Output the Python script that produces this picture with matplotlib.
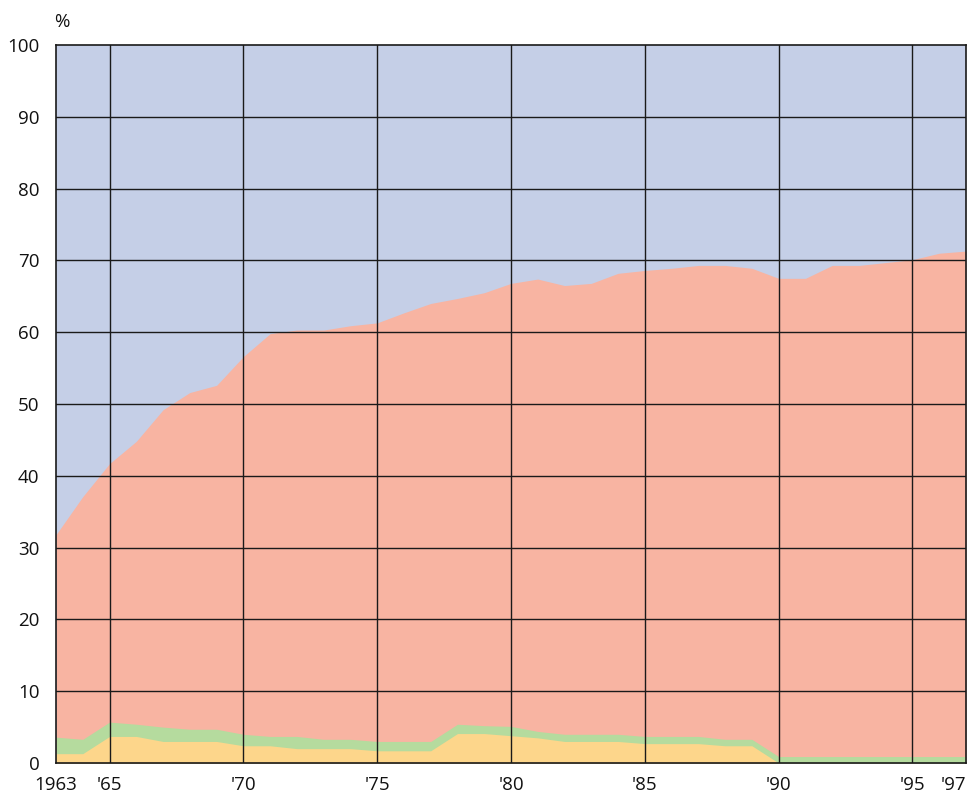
"""
    Stacked share chart, 1963-1997 (percent).
"""

import numpy as np
import matplotlib
matplotlib.use("Agg")
import matplotlib.pyplot as plt
from matplotlib.transforms import ScaledTranslation

years = list(range(1963, 1998))

# bottom layer (yellow)
yellow = [1.3, 1.3, 3.7, 3.7, 3.0, 3.0, 3.0, 2.4, 2.4, 2.0, 2.0, 2.0, 1.7, 1.7, 1.7,
          4.1, 4.1, 3.8, 3.5, 3.0, 3.0, 3.0, 2.7, 2.7, 2.7, 2.4, 2.4,
          0.0, 0.0, 0.0, 0.0, 0.0, 0.0, 0.0, 0.0]
# cumulative top of the green layer
green_top = [3.6, 3.3, 5.7, 5.4, 5.0, 4.7, 4.7, 4.0, 3.7, 3.7, 3.3, 3.3, 3.0, 3.0, 3.0,
             5.4, 5.2, 5.1, 4.4, 4.0, 4.0, 4.0, 3.7, 3.7, 3.7, 3.3, 3.3,
             0.9, 0.9, 0.9, 0.9, 0.9, 0.9, 0.9, 0.9]
# cumulative top of the salmon layer
salmon_top = [31.8, 37.1, 41.7, 44.8, 49.2, 51.6, 52.6, 56.6, 59.8, 60.3, 60.3, 60.9,
              61.3, 62.7, 64.0, 64.7, 65.5, 66.8, 67.4, 66.5, 66.8, 68.2, 68.6, 68.9,
              69.3, 69.3, 68.9, 67.5, 67.5, 69.3, 69.3, 69.7, 70.1, 71.0, 71.3]

xtick_pos = [1963, 1965, 1970, 1975, 1980, 1985, 1990, 1995, 1997]
xtick_labels = ["1963", "'65", "'70", "'75", "'80", "'85", "'90", "'95", "'97"]
ytick_pos = list(range(0, 101, 10))

plt.rcParams["font.family"] = ["Open Sans", "DejaVu Sans"]

fig = plt.figure(figsize=(9.72, 7.98), dpi=100)
ax = fig.add_axes([56 / 972, 35 / 798, 910 / 972, 718 / 798])

yrs = np.array(years)
ax.fill_between(yrs, 0, 100, color="#C5CFE7", lw=0)
ax.fill_between(yrs, 0, salmon_top, color="#F8B4A2", lw=0)
ax.fill_between(yrs, 0, green_top, color="#B5DB9E", lw=0)
ax.fill_between(yrs, 0, yellow, color="#FDD68B", lw=0)

ax.set_xlim(1963, 1997)
ax.set_ylim(0, 100)

# grid lines
for x in xtick_pos[1:-1]:
    ax.axvline(x, color="#1a1a1a", lw=1.0, zorder=3)
for y in ytick_pos[1:-1]:
    ax.axhline(y, color="#1a1a1a", lw=1.0, zorder=3)

for s in ax.spines.values():
    s.set_color("#1a1a1a")
    s.set_linewidth(1.2)
    s.set_zorder(4)

ax.set_xticks(xtick_pos)
ax.set_xticklabels(xtick_labels)
ax.set_yticks(ytick_pos)
ax.tick_params(length=0, labelsize=13.5, colors="#111111")
ax.tick_params(axis="x", pad=9)
ax.tick_params(axis="y", pad=12)

# last year label sits a bit left so it stays inside the figure
last = ax.get_xticklabels()[-1]
last.set_transform(last.get_transform() + ScaledTranslation(-9 / 72, 0, fig.dpi_scale_trans))

fig.text(62 / 972, 1 - 22 / 798, "%", ha="center", va="center", fontsize=13.5, color="#111111")

fig.savefig("out.png", dpi=100)
